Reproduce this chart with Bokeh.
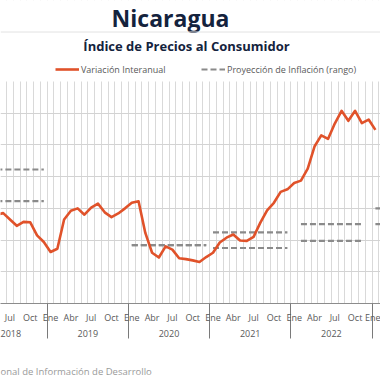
import pandas as pd
from bokeh.plotting import figure
from bokeh.models import (Range1d, FixedTicker, LinearAxis, Label, Legend, LegendItem,
                          Span, ColumnDataSource, BoxAnnotation, Title)
from bokeh.embed import file_html
from bokeh.resources import INLINE

# ---------------- data ----------------
months = [str(p) for p in pd.period_range("2018-05", "2023-01", freq="M")]
inflation = [5.6, 5.7, 5.3, 4.9, 5.15, 5.12, 4.3, 3.88,            # 2018 May-Dec
             3.25, 3.45, 5.3, 5.85, 6.0, 5.6, 6.05, 6.3, 5.75, 5.45, 5.68, 6.0,   # 2019
             6.35, 6.45, 4.45, 3.2, 2.9, 3.6, 3.4, 2.85, 2.8, 2.72, 2.62, 2.93,   # 2020
             3.2, 3.85, 4.15, 4.35, 3.97, 3.95, 4.2, 5.1, 5.88, 6.35, 7.04, 7.2,   # 2021
             7.6, 7.75, 8.5, 9.9, 10.6, 10.38, 11.35, 12.15, 11.52, 12.15, 11.38, 11.6,  # 2022
             10.95]                                                  # 2023 Jan

proj_years = [2018, 2020, 2021, 2022, 2023]
proj_low = [6.45, 3.68, 3.5, 3.95, 5.0]
proj_high = [8.45, 3.68, 4.48, 5.0, 6.0]
proj_first_month = [1, 1, 1, 2, 1]
proj_last_month = [12, 12, 12, 11, 12]

month_names = {1: "Ene", 4: "Abr", 7: "Jul", 10: "Oct"}
years = [2018, 2019, 2020, 2021, 2022]
y_ticks = [2, 4, 6, 8, 10, 12]
y_top_of_chart = 14

TITLE = "Nicaragua"
SUBTITLE = "Índice de Precios al Consumidor"
SOURCE = "onal de Información de  Desarrollo"

# --------------- helpers ---------------
def midx(year, month):
    return (year - 2019) * 12 + (month - 1)

xm = [midx(int(s[:4]), int(s[5:7])) for s in months]

W, H = 380, 380
BOTTOM = 77
FH = H - BOTTOM                      # frame covers everything above the axis
PX_PER_MONTH = 6.767
X0 = (0 - 50.08) / PX_PER_MONTH
X1 = (W - 50.08) / PX_PER_MONTH
Y0 = 0.0
Y1 = FH / 222 * 14

def X(px):   # page px -> data x
    return X0 + px / W * (X1 - X0)

def Y(py):   # page px -> data y
    return (FH - py) / FH * (Y1 - Y0)

FONT = "Open Sans"
ORANGE = "#E0522A"
GRAY_DASH = "#8a8a8a"
NAVY = "#14233d"
TXT = "#595959"

p = figure(width=W, height=H, x_range=Range1d(X0, X1), y_range=Range1d(Y0, Y1),
           output_backend="svg", toolbar_location=None,
           min_border_left=0, min_border_right=0, min_border_top=0, min_border_bottom=BOTTOM)
p.outline_line_color = None
p.background_fill_color = "white"
p.border_fill_color = "white"
p.yaxis.visible = False

# grids
p.xgrid.ticker = FixedTicker(ticks=[k - 0.5 for k in range(-8, 51)])
p.xgrid.grid_line_color = "#d9d9d9"
p.xgrid.grid_line_width = 1
p.ygrid.ticker = FixedTicker(ticks=y_ticks)
p.ygrid.grid_line_color = "#d3d3d3"
p.ygrid.grid_line_width = 1
# white mask so the vertical grid stops at the top of the chart area
p.add_layout(BoxAnnotation(bottom=y_top_of_chart, fill_color="white", fill_alpha=1,
                           line_color=None, level="underlay"))

# month axis
label_ticks = []
overrides = {}
for y in range(2018, 2024):
    for mo, nm in month_names.items():
        t = midx(y, mo)
        label_ticks.append(t)
        overrides[t] = nm
year_bounds = [midx(y, 1) - 0.5 for y in range(2019, 2024)]
SEP = 35
ax = p.xaxis[0]
ax.ticker = FixedTicker(ticks=label_ticks, minor_ticks=year_bounds)
ax.major_label_overrides = overrides
ax.major_tick_out = 0
ax.major_tick_in = 0
ax.minor_tick_out = SEP
ax.minor_tick_in = 0
ax.minor_tick_line_color = "#7a7a7a"
ax.axis_line_color = "#8c8c8c"
ax.major_label_standoff = 7 - SEP
ax.major_label_text_font = FONT
ax.major_label_text_font_size = "9px"
ax.major_label_text_color = TXT

# year axis
year_centers = [midx(y, 1) + 5.5 for y in years]
ax2 = LinearAxis(ticker=FixedTicker(ticks=year_centers, minor_ticks=[]),
                 major_label_overrides={c: str(y) for c, y in zip(year_centers, years)})
ax2.axis_line_color = None
ax2.major_tick_out = 0
ax2.major_tick_in = 0
ax2.minor_tick_out = 0
ax2.major_label_standoff = 3
ax2.major_label_text_font = FONT
ax2.major_label_text_font_size = "9px"
ax2.major_label_text_color = TXT
p.add_layout(ax2, "below")

# empty spacer band between the year labels and the source line
spacer_tick = round(X1 - 0.2, 3)
spacer = LinearAxis(ticker=FixedTicker(ticks=[spacer_tick], minor_ticks=[]),
                    major_label_overrides={spacer_tick: " "})
spacer.axis_line_color = None
spacer.major_tick_line_color = "white"
spacer.major_tick_out = 20
spacer.major_tick_in = 0
spacer.minor_tick_out = 0
spacer.major_label_standoff = 0
spacer.major_label_text_font_size = "1px"
p.add_layout(spacer, "below")

# source line
src_title = Title(text=SOURCE, align="left", vertical_align="top", text_font=FONT,
                  text_font_size="9.5px", text_font_style="normal", text_color="#9a9a9a",
                  standoff=2, offset=0)
p.add_layout(src_title, "below")

# projections
xs, ys = [], []
for yr, lo, hi, a, b in zip(proj_years, proj_low, proj_high, proj_first_month, proj_last_month):
    for v in (lo, hi):
        xs.append([midx(yr, a), midx(yr, b)])
        ys.append([v, v])
r_proj = p.multi_line(xs=xs, ys=ys, line_color=GRAY_DASH, line_width=2.2, line_dash="6 3")

# inflation line
src = ColumnDataSource(dict(x=xm, y=inflation))
r_inf = p.line("x", "y", source=src, line_color=ORANGE, line_width=2.6, line_join="round")

# legend (inside the frame, above the chart area)
legend = Legend(items=[LegendItem(label="Variación Interanual", renderers=[r_inf]),
                       LegendItem(label="Proyección de Inflación (rango)", renderers=[r_proj])],
                orientation="horizontal", location=(55, FH - 75.5),
                padding=0, margin=0, spacing=2, glyph_width=24, glyph_height=12,
                label_standoff=2, label_width=118, label_height=12,
                label_text_font=FONT, label_text_font_size="9px", label_text_color=TXT,
                border_line_color=None, background_fill_alpha=0)
p.add_layout(legend)

# texts
p.add_layout(Label(x=X(170), y=Y(17), text=TITLE, text_align="center", text_baseline="middle",
                   text_font=FONT, text_font_size="23px", text_font_style="bold", text_color=NAVY))
p.add_layout(Span(location=Y(31.5), dimension="width", line_color="#e2e2e2", line_width=1))
p.add_layout(Label(x=X(186), y=Y(45), text=SUBTITLE, text_align="center", text_baseline="middle",
                   text_font=FONT, text_font_size="13px", text_font_style="bold", text_color=NAVY))

open("out.html", "w").write(file_html(p, INLINE))
